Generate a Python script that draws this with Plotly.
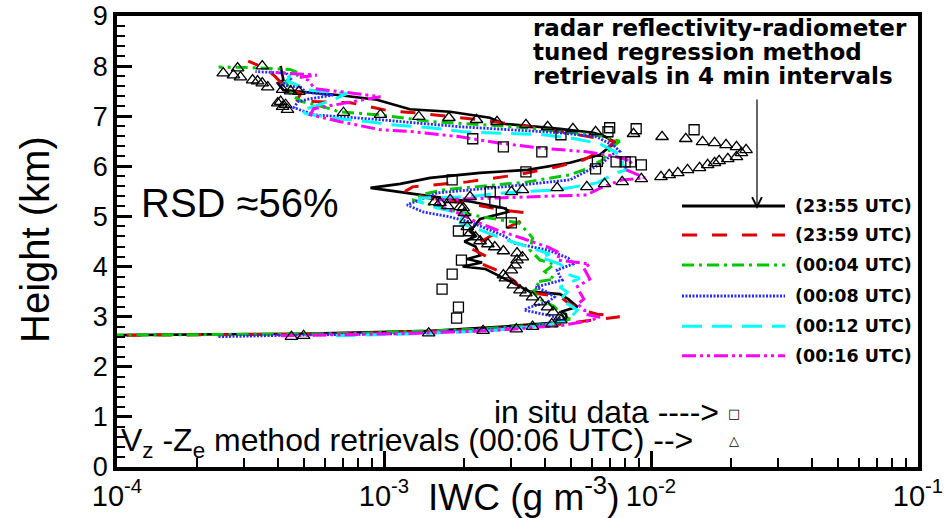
import plotly.graph_objects as go

# ---------------- data (height km, IWC g m^-3) ----------------
h_2355 = [2.62, 2.66, 2.72, 2.80, 2.88, 2.95, 3.05, 3.10, 3.20, 3.35, 3.45, 3.50, 3.75, 3.95, 4.00, 4.08, 4.15, 4.22,
          4.40, 4.50, 4.60, 4.70, 4.95, 5.03, 5.10, 5.17, 5.30, 5.43, 5.53, 5.57, 5.65, 5.77, 5.87, 5.93, 6.07, 6.23,
          6.39, 6.47, 6.60, 6.67, 6.75, 6.85, 6.97, 7.09, 7.14, 7.33, 7.42, 7.48, 7.52, 7.66, 7.72, 8.00]
iwc_2355 = [5e-5, 4.9e-4, 1.5e-3, 2.72e-3, 4.3e-3, 4.85e-3, 4.8e-3, 4.6e-3, 5.3e-3, 4.9e-3, 4.56e-3, 3.52e-3,
            2.85e-3, 2.4e-3, 1.97e-3, 2.33e-3, 2.05e-3, 2.29e-3, 2.2e-3, 2.0e-3, 2.2e-3, 2.1e-3, 2.29e-3, 2.65e-3,
            2.96e-3, 2.8e-3, 2.1e-3, 1.37e-3, 9.9e-4, 8.9e-4, 1.15e-3, 1.49e-3, 2.29e-3, 3.45e-3, 4.97e-3, 6.43e-3,
            7.0e-3, 7.4e-3, 6.7e-3, 6.1e-3, 4.56e-3, 2.8e-3, 2.49e-3, 1.77e-3, 1.25e-3, 9.4e-4, 6.87e-4, 4.87e-4,
            4.2e-4, 4.0e-4, 4.2e-4, 4.1e-4]

h_2359 = [2.62, 2.65, 2.72, 2.85, 2.95, 3.00, 3.05, 3.12, 3.25, 3.40, 3.50, 3.70, 3.90, 4.05, 4.17, 4.37, 4.60, 4.90,
          5.07, 5.12, 5.25, 5.37, 5.50, 5.59, 5.69, 5.83, 5.99, 6.13, 6.27, 6.40, 6.50, 6.63, 6.75, 6.85, 6.95, 7.07,
          7.10, 7.27, 7.30, 7.45, 7.62, 7.80, 7.95, 8.10]
iwc_2359 = [5e-5, 6.3e-4, 1.93e-3, 4.56e-3, 6.43e-3, 7.63e-3, 6.3e-3, 5.6e-3, 4.97e-3, 4.56e-3, 3.3e-3, 3.1e-3,
            2.72e-3, 2.33e-3, 2.49e-3, 2.1e-3, 2.49e-3, 3.23e-3, 3.45e-3, 2.85e-3, 2.1e-3, 1.45e-3, 1.2e-3, 1.28e-3,
            2.05e-3, 3.15e-3, 4.45e-3, 5.6e-3, 6.3e-3, 7.0e-3, 7.3e-3, 5.41e-3, 4.0e-3, 2.96e-3, 2.1e-3, 1.3e-3,
            1.06e-3, 7.5e-4, 4.7e-4, 4.87e-4, 4.2e-4, 3.9e-4, 3.6e-4, 3.1e-4]

h_0004 = [2.62, 2.66, 2.75, 2.85, 2.95, 3.05, 3.20, 3.35, 3.50, 3.60, 3.69, 3.75, 3.90, 4.05, 4.13, 4.33, 4.57, 4.69,
          4.87, 5.00, 5.10, 5.20, 5.33, 5.45, 5.53, 5.60, 5.69, 5.83, 5.93, 6.13, 6.37, 6.50, 6.60, 6.70, 6.78, 6.83,
          6.89, 7.03, 7.09, 7.13, 7.30, 7.45, 7.70, 7.85, 7.93, 7.97, 7.98]
iwc_0004 = [5e-5, 7.5e-4, 2.29e-3, 4.1e-3, 4.97e-3, 4.6e-3, 4.35e-3, 3.84e-3, 3.6e-3, 3.84e-3, 3.7e-3, 4.35e-3,
            4.0e-3, 4.35e-3, 3.84e-3, 3.52e-3, 3.6e-3, 3.45e-3, 3.2e-3, 2.29e-3, 1.85e-3, 1.58e-3, 1.28e-3, 1.42e-3,
            1.66e-3, 2.29e-3, 3.45e-3, 4.97e-3, 5.6e-3, 6.6e-3, 7.1e-3, 7.63e-3, 6.7e-3, 4.56e-3, 3.23e-3, 2.35e-3,
            1.53e-3, 9.4e-4, 6.7e-4, 6.5e-4, 4.87e-4, 4.47e-4, 4.3e-4, 4.85e-4, 4.47e-4, 3.2e-4, 2.4e-4]

h_0008 = [2.60, 2.63, 2.66, 2.72, 2.80, 2.88, 2.93, 3.03, 3.13, 3.19, 3.29, 3.39, 3.49, 3.59, 3.73, 3.80, 3.93, 4.05,
          4.17, 4.33, 4.47, 4.60, 4.73, 4.89, 5.00, 5.09, 5.23, 5.33, 5.39, 5.47, 5.59, 5.73, 5.93, 6.07, 6.23, 6.30,
          6.40, 6.50, 6.59, 6.67, 6.73, 6.79, 6.87, 6.93, 7.03, 7.17, 7.29, 7.35, 7.42, 7.48, 7.58, 7.62, 7.75, 7.86,
          7.89]
iwc_0008 = [2.4e-4, 4.47e-4, 1.15e-3, 2.1e-3, 3.52e-3, 4.35e-3, 4.8e-3, 4.1e-3, 3.35e-3, 3.52e-3, 4.1e-3, 4.35e-3,
            4.1e-3, 3.7e-3, 4.65e-3, 4.56e-3, 4.45e-3, 5.1e-3, 4.9e-3, 4.1e-3, 3.05e-3, 2.85e-3, 2.49e-3, 2.1e-3,
            1.73e-3, 1.4e-3, 1.22e-3, 1.37e-3, 1.45e-3, 1.58e-3, 2.8e-3, 4.97e-3, 5.9e-3, 6.6e-3, 7.1e-3, 7.63e-3,
            7.3e-3, 6.7e-3, 6.25e-3, 4.56e-3, 2.8e-3, 1.93e-3, 1.29e-3, 9.7e-4, 5.45e-4, 4.6e-4, 4.75e-4, 5.3e-4,
            6.45e-4, 5.1e-4, 4.87e-4, 4.1e-4, 4.47e-4, 4.3e-4, 3.3e-4]

h_0012 = [2.62, 2.66, 2.72, 2.82, 2.93, 3.03, 3.13, 3.23, 3.33, 3.49, 3.59, 3.77, 3.83, 3.95, 4.05, 4.19, 4.25, 4.43,
          4.55, 4.73, 4.87, 5.05, 5.19, 5.30, 5.37, 5.39, 5.47, 5.53, 5.67, 5.87, 5.93, 6.05, 6.15, 6.30, 6.45, 6.55,
          6.63, 6.69, 6.77, 6.83, 6.87, 6.97, 7.05, 7.13, 7.17, 7.33, 7.45, 7.52, 7.60, 7.70, 7.85, 7.98]
iwc_0012 = [6.6e-4, 1.37e-3, 2.49e-3, 4.0e-3, 4.9e-3, 5.1e-3, 5.3e-3, 4.97e-3, 4.56e-3, 4.85e-3, 4.56e-3, 5.41e-3,
            4.97e-3, 4.8e-3, 4.56e-3, 3.84e-3, 4.18e-3, 3.3e-3, 2.8e-3, 2.29e-3, 1.93e-3, 1.98e-3, 1.53e-3, 1.35e-3,
            1.37e-3, 2.05e-3, 2.8e-3, 4.45e-3, 6.3e-3, 7.4e-3, 8.1e-3, 7.8e-3, 7.9e-3, 7.3e-3, 6.43e-3, 5.2e-3,
            3.95e-3, 1.98e-3, 1.49e-3, 1.06e-3, 9.4e-4, 6.3e-4, 5.1e-4, 4.87e-4, 5.3e-4, 6.45e-4, 7.25e-4, 5.3e-4,
            4.87e-4, 4.35e-4, 4.47e-4, 4.7e-4]

h_0016 = [2.62, 2.66, 2.72, 2.82, 2.92, 2.99, 3.05, 3.13, 3.25, 3.35, 3.49, 3.60, 3.75, 3.97, 4.05, 4.13, 4.27, 4.39,
          4.55, 4.73, 4.90, 5.05, 5.20, 5.33, 5.37, 5.40, 5.43, 5.59, 5.73, 5.77, 5.95, 6.10, 6.20, 6.29, 6.37, 6.47,
          6.59, 6.69, 6.73, 6.89, 7.03, 7.15, 7.29, 7.39, 7.45, 7.55, 7.72, 7.78, 7.82, 7.88]
iwc_0016 = [4.1e-4, 1.15e-3, 2.49e-3, 4.56e-3, 5.9e-3, 6.43e-3, 5.65e-3, 5.65e-3, 5.3e-3, 5.6e-3, 5.41e-3, 5.3e-3,
            5.9e-3, 5.6e-3, 5.9e-3, 4.45e-3, 4.56e-3, 4.1e-3, 3.35e-3, 2.65e-3, 2.2e-3, 1.93e-3, 1.62e-3, 1.58e-3,
            2.65e-3, 3.95e-3, 5.75e-3, 6.6e-3, 7.8e-3, 9.5e-3, 7.9e-3, 8.5e-3, 7.3e-3, 5.75e-3, 3.75e-3, 2.65e-3,
            1.93e-3, 1.29e-3, 9.7e-4, 6.87e-4, 5.3e-4, 5.45e-4, 7.5e-4, 9.7e-4, 7.9e-4, 5.5e-4, 5.2e-4, 4.85e-4,
            5.6e-4, 3.76e-4]

# Vz-Ze method retrievals (00:06 UTC)
tri_h = [2.60, 2.62, 2.67, 2.72, 2.75, 2.80, 2.85, 2.93, 2.99, 3.09, 3.19, 3.29, 3.39, 3.47, 3.53, 3.63, 3.77, 3.83,
         3.93, 4.03, 4.13, 4.19, 4.27, 4.31, 4.39, 4.45, 4.51, 4.59, 4.67, 4.79, 4.93, 5.07, 5.17, 5.19, 5.21, 5.27,
         5.29, 5.33, 5.39, 5.49, 5.53, 5.57, 5.59, 5.65, 5.69, 5.75, 5.79, 5.83, 5.87, 5.93, 5.97, 6.03, 6.07, 6.11,
         6.15, 6.19, 6.27, 6.33, 6.39, 6.43, 6.47, 6.49, 6.55, 6.59, 6.65, 6.69, 6.75, 6.79, 6.83, 6.89, 6.93, 6.97,
         6.99, 7.03, 7.07, 7.13, 7.19, 7.23, 7.26, 7.29, 7.49, 7.50, 7.53, 7.58, 7.66, 7.70, 7.72, 7.78, 7.82, 7.86,
         7.96, 8.00]
tri_iwc = [4.5e-4, 5.0e-4, 1.47e-3, 2.35e-3, 3.13e-3, 3.6e-3, 4.25e-3, 4.6e-3, 4.56e-3, 4.3e-3, 4.1e-3, 3.84e-3,
           3.6e-3, 3.4e-3, 3.23e-3, 3.05e-3, 2.85e-3, 2.8e-3, 3.0e-3, 3.1e-3, 3.15e-3, 3.3e-3, 3.15e-3, 2.8e-3,
           2.6e-3, 2.45e-3, 2.29e-3, 2.2e-3, 2.1e-3, 2.05e-3, 2.03e-3, 2.0e-3, 1.98e-3, 1.93e-3, 1.73e-3, 1.62e-3,
           1.55e-3, 1.77e-3, 2.1e-3, 3.0e-3, 3.3e-3, 4.45e-3, 5.75e-3, 6.7e-3, 7.8e-3, 9.2e-3, 1.09e-2, 1.17e-2,
           1.26e-2, 1.37e-2, 1.52e-2, 1.63e-2, 1.73e-2, 1.80e-2, 1.94e-2, 2.09e-2, 2.18e-2, 2.27e-2, 2.09e-2,
           1.91e-2, 1.73e-2, 1.56e-2, 1.35e-2, 1.10e-2, 8.6e-3, 6.2e-3, 5.1e-3, 4.1e-3, 3.4e-3, 2.65e-3, 2.22e-3,
           1.75e-3, 1.35e-3, 9.7e-4, 7.05e-4, 4.35e-4, 4.17e-4, 4.28e-4, 4.0e-4, 4.1e-4, 4.8e-4, 4.47e-4, 4.17e-4,
           3.67e-4, 3.5e-4, 3.36e-4, 3.22e-4, 2.9e-4, 2.73e-4, 2.5e-4, 2.83e-4, 3.5e-4]

# in situ data
sq_h = [2.97, 3.19, 3.55, 3.85, 4.13, 4.71, 4.87, 5.07, 5.29, 5.49, 5.73, 5.89, 5.95, 6.03, 6.09, 6.09, 6.09, 6.10,
        6.29, 6.39, 6.55, 6.63, 6.69, 6.73, 6.75, 6.77]
sq_iwc = [1.87e-3, 1.9e-3, 1.65e-3, 1.8e-3, 1.95e-3, 1.9e-3, 3.0e-3, 2.75e-3, 2.6e-3, 2.5e-3, 1.8e-3, 3.4e-3, 6.2e-3,
          9.2e-3, 7.4e-3, 8.0e-3, 8.4e-3, 6.3e-3, 3.9e-3, 2.8e-3, 2.15e-3, 4.6e-3, 6.9e-3, 1.45e-2, 8.8e-3, 7.0e-3]

series_labels = ["(23:55 UTC)", "(23:59 UTC)", "(00:04 UTC)", "(00:08 UTC)", "(00:12 UTC)", "(00:16 UTC)"]
x_tick_vals = [1e-4, 1e-3, 1e-2, 1e-1]
x_tick_text = ["10<sup>-4</sup>", "10<sup>-3</sup>", "10<sup>-2</sup>", "10<sup>-1</sup>"]
legend_heights = [5.21, 4.63, 4.03, 3.41, 2.81, 2.22]

# ---------------- styles ----------------
series = [
    (h_2355, iwc_2355, "#000000", "solid", 2.6),
    (h_2359, iwc_2359, "#dd0000", "15px,15px", 3),
    (h_0004, iwc_0004, "#00c800", "12px,5px,3px,5px", 3),
    (h_0008, iwc_0008, "#2a2aff", "2px,1.5px", 2.8),
    (h_0012, iwc_0012, "#00ffff", "20px,10px", 3),
    (h_0016, iwc_0016, "#ff00ff", "14px,4px,3px,4px,3px,4px", 3),
]

fig = go.Figure()
for (hh, ww, col, dash, lw), lab in zip(series, series_labels):
    fig.add_trace(go.Scatter(x=ww, y=hh, mode="lines", name=lab, showlegend=False,
                             line=dict(color=col, dash=dash, width=lw)))

fig.add_trace(go.Scatter(x=sq_iwc, y=sq_h, mode="markers", showlegend=False,
                         marker=dict(symbol="square-open", size=10, color="black", line=dict(width=1.3))))
fig.add_trace(go.Scatter(x=tri_iwc, y=tri_h, mode="markers", showlegend=False,
                         marker=dict(symbol="triangle-up-open", size=11, color="black", line=dict(width=1.3))))

W, H = 945, 518
L, R, T, B = 117, 27, 16, 51
pw, ph = W - L - R, H - T - B


def px(xp):
    return (xp - L) / pw


def py(yp):
    return (H - B - yp) / ph


shapes = []
annotations = []
for (hh, ww, col, dash, lw), lab, ly in zip(series, series_labels, legend_heights):
    shapes.append(dict(type="line", xref="paper", yref="y", x0=px(682), x1=px(785), y0=ly, y1=ly,
                       line=dict(color=col, dash=dash, width=3)))
    annotations.append(dict(xref="paper", yref="y", x=px(793), y=ly, xanchor="left", yanchor="middle",
                            text="<b>%s</b>" % lab, showarrow=False,
                            font=dict(family="DejaVu Sans", size=17.5, color="black")))

title_lines = ["radar reflectivity-radiometer", "tuned regression method", "retrievals in 4 min intervals"]
for i, t in enumerate(title_lines):
    annotations.append(dict(xref="paper", yref="paper", x=px(531), y=py(28 + 24 * i), xanchor="left",
                            yanchor="middle", text="<b>%s</b>" % t, showarrow=False,
                            font=dict(family="DejaVu Sans", size=23, color="black")))

# arrow
annotations.append(dict(xref="paper", yref="paper", x=px(757), y=py(209), ax=0, ay=-111, text="",
                        showarrow=True, arrowhead=5, arrowsize=1.6, arrowwidth=1.2, arrowcolor="black"))

annotations.append(dict(xref="paper", yref="paper", x=px(139), y=py(203), xanchor="left", yanchor="middle",
                        text="RSD \u224856%", showarrow=False,
                        font=dict(family="Liberation Sans", size=40, color="black")))
annotations.append(dict(xref="paper", yref="paper", x=px(721), y=py(412), xanchor="right", yanchor="middle",
                        text="in situ data ---->", showarrow=False,
                        font=dict(family="Liberation Sans", size=32, color="black")))
annotations.append(dict(xref="paper", yref="paper", x=px(119), y=py(442), xanchor="left", yanchor="middle",
                        text="V<sub>z</sub> -Z<sub>e</sub> method retrievals (00:06 UTC) -->", showarrow=False,
                        font=dict(family="Liberation Sans", size=32, color="black")))
annotations.append(dict(xref="paper", yref="paper", x=px(734), y=py(413), xanchor="center", yanchor="middle",
                        text="\u25a1", showarrow=False, font=dict(family="DejaVu Sans", size=13, color="black")))
annotations.append(dict(xref="paper", yref="paper", x=px(734), y=py(440), xanchor="center", yanchor="middle",
                        text="\u25b3", showarrow=False, font=dict(family="DejaVu Sans", size=13, color="black")))
# axis titles
annotations.append(dict(xref="paper", yref="paper", x=px(524), y=py(494), xanchor="center", yanchor="middle",
                        text="IWC (g m<sup>-3</sup>)", showarrow=False,
                        font=dict(family="Liberation Sans", size=37, color="black")))
annotations.append(dict(xref="paper", yref="paper", x=px(35), y=py(240), xanchor="center", yanchor="middle",
                        text="Height (km)", textangle=-90, showarrow=False,
                        font=dict(family="Liberation Sans", size=40, color="black")))

minor_x = [m * 10 ** e for e in (-4, -3, -2) for m in range(2, 10)]

fig.update_layout(
    width=W, height=H, margin=dict(l=L, r=R, t=T, b=B, autoexpand=False),
    paper_bgcolor="white", plot_bgcolor="white",
    shapes=shapes, annotations=annotations,
    xaxis=dict(type="log", range=[-4, -1], showgrid=False, zeroline=False,
               showline=True, linewidth=3.5, linecolor="black", mirror=True,
               ticks="inside", ticklen=16, tickwidth=2.5, tickcolor="black",
               tickmode="array", tickvals=x_tick_vals, ticktext=x_tick_text,
               tickfont=dict(family="Liberation Sans", size=29, color="black"),
               minor=dict(tickmode="array", tickvals=minor_x, ticks="inside", ticklen=9, tickwidth=1.5,
                          tickcolor="black", showgrid=False),
               automargin=False),
    yaxis=dict(range=[0, 9], showgrid=False, zeroline=False,
               showline=True, linewidth=3.5, linecolor="black", mirror=True,
               ticks="inside", ticklen=15, tickwidth=3, tickcolor="black",
               tickmode="linear", tick0=0, dtick=1,
               tickfont=dict(family="Liberation Sans", size=27, color="black"),
               minor=dict(dtick=0.2, ticks="inside", ticklen=8, tickwidth=1.5, tickcolor="black",
                          showgrid=False),
               automargin=False),
)

fig.write_html("out.html")
